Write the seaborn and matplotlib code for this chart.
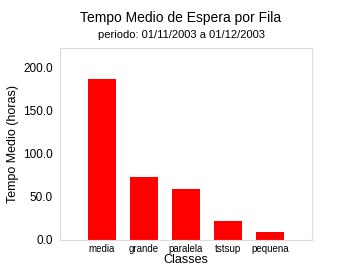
import matplotlib
matplotlib.use("Agg")
import matplotlib.pyplot as plt
import seaborn as sns
import pandas as pd

categories = ["media", "grande", "paralela", "tstsup", "pequena"]
values = [187.0, 73.0, 59.0, 22.0, 9.0]
yticks = [0.0, 50.0, 100.0, 150.0, 200.0]

sns.set_style("white")
plt.rcParams['font.family'] = ['Liberation Sans', 'DejaVu Sans']
plt.rcParams['text.color'] = 'black'
plt.rcParams['axes.labelcolor'] = 'black'
plt.rcParams['xtick.color'] = 'black'
plt.rcParams['ytick.color'] = 'black'

df = pd.DataFrame({"Classe": categories, "Tempo": values})

fig = plt.figure(figsize=(3.62, 2.8), dpi=100)
ax = fig.add_axes([60/362, 1-240/280, 252/362, 192/280])
sns.barplot(data=df, x="Classe", y="Tempo", color="#ff0000", saturation=1,
            width=0.69, ax=ax, edgecolor="none")
ax.set_xlim(-1, 5)
ax.set_ylim(0, 223)
ax.set_yticks(yticks)
ax.set_yticklabels([f"{v:.1f}" for v in yticks], fontsize=8.5)
ax.tick_params(axis='x', labelsize=7, length=0, pad=3)
ax.tick_params(axis='y', length=0, pad=5)
for s in ax.spines.values():
    s.set_color("#dddddd")
    s.set_linewidth(0.8)
ax.set_xlabel("Classes", fontsize=9, labelpad=0)
ax.set_ylabel("Tempo Medio (horas)", fontsize=9, labelpad=3)
fig.text(0.5, 1-18/280, "Tempo Medio de Espera por Fila", ha="center", va="center", fontsize=10)
fig.text(0.5, 1-35/280, "periodo: 01/11/2003 a 01/12/2003", ha="center", va="center", fontsize=8)
fig.savefig("out.png", dpi=100)
